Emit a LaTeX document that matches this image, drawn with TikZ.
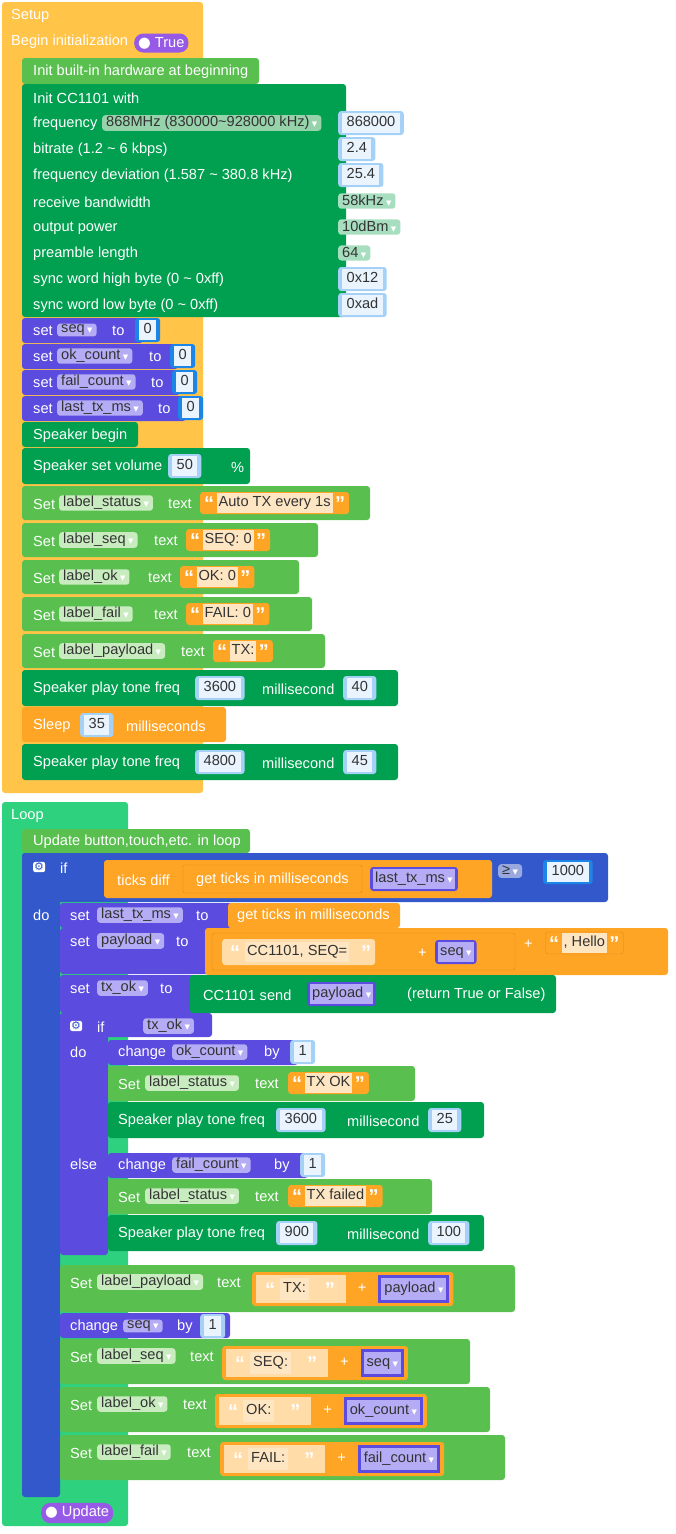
\documentclass[tikz,border=0pt]{standalone}
\usepackage{fontspec}
\setmainfont{Liberation Sans}
\newfontfamily\dv{DejaVu Sans}
\usetikzlibrary{positioning}
\definecolor{setupC}{HTML}{FFC448}
\definecolor{hwC}{HTML}{59C04F}
\definecolor{hwL}{HTML}{C8ECC0}
\definecolor{dgC}{HTML}{00A050}
\definecolor{ddG}{HTML}{96D2AA}
\definecolor{ddT}{HTML}{A8DEC0}
\definecolor{numC}{HTML}{A6D1F7}
\definecolor{numL}{HTML}{EAF4FE}
\definecolor{numD}{HTML}{1C86E8}
\definecolor{varC}{HTML}{5B4BDE}
\definecolor{varL}{HTML}{B4ACF5}
\definecolor{orC}{HTML}{FFA526}
\definecolor{orD}{HTML}{D98A1C}
\definecolor{strL}{HTML}{FFE6C2}
\definecolor{strBg}{HTML}{FFDCA8}
\definecolor{loopC}{HTML}{2ED27E}
\definecolor{ifC}{HTML}{3358CC}
\definecolor{ifL}{HTML}{9AA8E0}
\definecolor{togC}{HTML}{965AE6}
\definecolor{txtC}{HTML}{333333}
\setlength{\fboxsep}{2pt}
\newcommand{\dd}{\,{\dv\fontsize{7}{8}\selectfont\color{white}▼}}
\newcommand{\nf}[1]{\colorbox{numL}{\strut\,#1\,}}
\newcommand{\vr}[1]{\colorbox{varL}{\strut\color{txtC}#1\dd}}
\newcommand{\vrep}[1]{{\setlength{\fboxsep}{3pt}\colorbox{varC}{\vr{#1}}}}
\newcommand{\qm}[1]{{\fontsize{20}{20}\selectfont\bfseries\color{white}\raisebox{-4pt}{#1}}}
\newcommand{\sq}[1]{\qm{“}\,\colorbox{strL}{\strut\color{txtC}#1}\,\qm{”}}
\newcommand{\jsq}[1]{{\setlength{\fboxsep}{3pt}\colorbox{strBg}{\hspace{6pt}\qm{“}\hspace{5pt}\colorbox{strL}{\strut\color{txtC}#1}\hspace{16pt}\qm{”}\hspace{8pt}}}}
\newcommand{\jplus}{\hspace{12pt}{\color{white}+}\hspace{12pt}}
\newcommand{\gear}{{\dv\color{ifC}⚙}}
\begin{document}
\begin{tikzpicture}[x=1pt,y=-1pt,font=\fontsize{14.6}{16}\selectfont,
    blk/.style={fill=#1,rounded corners=3pt},
    lbl/.style={anchor=west,text=white,inner sep=0pt},
    rep/.style={anchor=west,fill=#1,rounded corners=3pt,inner xsep=4pt,inner ysep=2pt,text=txtC},
    pill/.style={anchor=west,fill=togC,rounded corners=9pt,text=white,minimum height=19pt,inner xsep=4pt},
    gearbox/.style={anchor=west,fill=white,rounded corners=2pt,inner sep=1pt,font=\fontsize{11}{12}\selectfont}]
\useasboundingbox (0,0) rectangle (675,1534);
% setup
\path[blk=setupC] (2,2) rectangle (203,793);
\node[lbl] (setup) at (11,16) {Setup};
\node[lbl] (begin) at (11,42) {Begin initialization};
\node[pill] (true) at (134,43) {{\dv●}\ True};
\path[blk=hwC] (22,58) rectangle (259,84);
\node[lbl] (hw) at (33,72) {Init built-in hardware at beginning};
\path[blk=dgC] (22,84) rectangle (346,317);
\foreach \t [count=\i] in {Init CC1101 with, frequency, {bitrate (1.2 \textasciitilde{} 6 kbps)},
    {frequency deviation (1.587 \textasciitilde{} 380.8 kHz)}, receive bandwidth, output power,
    preamble length, {sync word high byte (0 \textasciitilde{} 0xff)}, {sync word low byte (0 \textasciitilde{} 0xff)}}
  \node[lbl] (row\i) at (33,{98+26*(\i-1)}) {\t};
\node[rep=ddG,inner ysep=1pt] (band) at (102,123) {868MHz (830000\textasciitilde928000 kHz)\dd};
\node[rep=numC] (freq) at (338,123) {\nf{868000}};
\node[rep=numC] (rate) at (338,149) {\nf{2.4}};
\node[rep=numC] (dev) at (338,175) {\nf{25.4}};
\node[rep=ddT] (bw) at (338,201) {58kHz\dd};
\node[rep=ddT] (pwr) at (338,227) {10dBm\dd};
\node[rep=ddT] (pre) at (338,253) {64\dd};
\node[rep=numC] (synch) at (338,279) {\nf{0x12}};
\node[rep=numC] (syncl) at (338,305) {\nf{0xad}};
% set variables
\foreach \v/\y/\tox/\nx [count=\i] in {seq/330/112/135, ok\_count/356/149/170, fail\_count/382/151/172, last\_tx\_ms/408/158/178}{
  \path[blk=varC] (22,\y-12) rectangle (\nx+8,\y+13);
  \node[lbl] (set\i) at (33,\y+1) {set};
  \node[rep=varL,inner ysep=1pt] (var\i) at (57,\y) {\v\dd};
  \node[lbl] (to\i) at (\tox,\y+1) {to};
  \node[rep=numD] (num\i) at (\nx,\y) {\nf{0}};
}
\path[blk=dgC] (22,422) rectangle (138,447);
\node[lbl] (spkbegin) at (33,436) {Speaker begin};
\path[blk=dgC] (22,448) rectangle (250,484);
\node[lbl] (vol) at (33,467) {Speaker set volume};
\node[rep=numC] (volnum) at (168,466) {\nf{50}};
\node[lbl] (pct) at (231,467) {\%};
\foreach \lb/\y/\sx/\st/\rx [count=\i] in {label\_status/503/200/Auto TX every 1s/370, label\_seq/540/186/SEQ: 0/318,
    label\_ok/577/180/OK: 0/299, label\_fail/614/186/FAIL: 0/312, label\_payload/651/213/TX:/325}{
  \path[blk=hwC] (22,\y-17) rectangle (\rx,\y+17);
  \node[lbl] (lset\i) at (33,\y+1) {Set};
  \node[rep=hwL,inner ysep=1pt] (lvar\i) at (59,\y) {\lb\dd};
  \node[lbl] (ltext\i) at (\sx-32,\y+1) {text};
  \node[rep=orC,inner ysep=1pt] (lstr\i) at (\sx,\y) {\sq{\st}};
}
\foreach \y/\fa/\fb [count=\i] in {688/3600/40, 762/4800/45}{
  \path[blk=dgC] (22,\y-18) rectangle (398,\y+18);
  \node[lbl] (tone\i) at (33,\y+1) {Speaker play tone freq};
  \node[rep=numC] (freq\i) at (195,\y) {\nf{\fa}};
  \node[lbl] (ms\i) at (262,\y+1) {millisecond};
  \node[rep=numC] (dur\i) at (343,\y) {\nf{\fb}};
}
\path[blk=orC] (22,707) rectangle (226,742);
\node[lbl] (sleep) at (33,726) {Sleep};
\node[rep=numC] (sleepnum) at (80,725) {\nf{35}};
\node[lbl] (sleepms) at (126,726) {milliseconds};
% loop
\path[blk=loopC] (2,802) rectangle (128,1526);
\node[lbl] (loop) at (11,816) {Loop};
\node[pill] (update) at (41,1513) {{\dv●}\ Update};
\path[blk=hwC] (22,829) rectangle (250,853);
\node[lbl] (upd) at (33,842) {Update button,touch,etc. in loop};
\path[blk=ifC] (22,853) rectangle (608,902);
\path[blk=ifC] (22,853) rectangle (60,1497);
\node[gearbox] (gear1) at (33,867) {\gear};
\node[lbl] (if1) at (60,868) {if};
\node[lbl] (do1) at (33,915) {do};
\path[blk=orC] (104,860) rectangle (492,898);
\node[lbl] (diff) at (117,880) {ticks diff};
\draw[orD,rounded corners=2pt] (183,865) rectangle (362,893);
\node[lbl] (ticks1) at (196,880) {get ticks in milliseconds};
\node[rep=varC,inner xsep=3pt] (lasttx) at (370,879) {\vr{last\_tx\_ms}};
\node[rep=ifL] (ge) at (498,871) {≥\dd};
\node[rep=numD] (thr) at (543,872) {\nf{1000}};
% do branch
\path[blk=varC] (60,903) rectangle (232,928);
\node[lbl] (set5) at (70,916) {set};
\node[rep=varL,inner ysep=1pt] (var5) at (97,915) {last\_tx\_ms\dd};
\node[lbl] (to5) at (196,916) {to};
\path[blk=orC] (228,903) rectangle (400,928);
\node[lbl] (ticks2) at (237,916) {get ticks in milliseconds};
\path[blk=varC] (60,928) rectangle (210,974);
\node[lbl] (set6) at (70,942) {set};
\node[rep=varL,inner ysep=1pt] (var6) at (97,941) {payload\dd};
\node[lbl] (to6) at (176,942) {to};
\path[blk=orC] (205,928) rectangle (668,975);
\draw[orD,rounded corners=2pt] (212,933) rectangle (515,970);
\node[rep=strBg,inner ysep=3pt] (sseq) at (222,952) {\hspace{4pt}\qm{“}\hspace{5pt}\colorbox{strL}{\strut CC1101, SEQ=}\hspace{12pt}\qm{”}\hspace{6pt}};
\node[lbl] (plus1) at (418,953) {+};
\node[rep=varC,inner xsep=3pt] (seqv) at (435,952) {\vr{seq}};
\node[lbl] (plus2) at (524,944) {+};
\node[rep=orC,draw=orD,inner ysep=1pt] (shello) at (545,943) {\sq{, Hello}};
\path[blk=varC] (60,975) rectangle (195,1013);
\node[lbl] (set7) at (70,989) {set};
\node[rep=varL,inner ysep=1pt] (var7) at (97,988) {tx\_ok\dd};
\node[lbl] (to7) at (160,989) {to};
\path[blk=dgC] (190,975) rectangle (556,1013);
\node[lbl] (send) at (203,995) {CC1101 send};
\node[rep=varC,inner xsep=3pt] (sendv) at (307,994) {\vr{payload}};
\node[lbl] (ret) at (407,995) {(return True or False)};
% inner if
\path[blk=varC] (60,1013) rectangle (212,1037);
\path[blk=varC] (60,1013) rectangle (108,1255);
\node[gearbox] (gear2) at (70,1026) {\gear};
\node[lbl] (if2) at (97,1027) {if};
\node[rep=varL,inner ysep=1pt] (txok) at (143,1026) {tx\_ok\dd};
\node[lbl] (do2) at (70,1052) {do};
\node[lbl] (else) at (70,1164) {else};
\foreach \y/\v/\st/\rx/\nb/\fa/\fb [count=\i] in {1052/ok\_count/TX OK/415/290/3600/25, 1165/fail\_count/TX failed/432/300/900/100}{
  \path[blk=varC] (108,\y-12) rectangle (\nb+8,\y+13);
  \node[lbl] (chg\i) at (118,\y+1) {change};
  \node[rep=varL,inner ysep=1pt] (cvar\i) at (172,\y) {\v\dd};
  \node[lbl] (by\i) at (\nb-26,\y+1) {by};
  \node[rep=numC] (cnum\i) at (\nb,\y) {\nf{1}};
  \path[blk=hwC] (108,\y+14) rectangle (\rx,\y+49);
  \node[lbl] (sset\i) at (118,\y+32) {Set};
  \node[rep=hwL,inner ysep=1pt] (svar\i) at (145,\y+31) {label\_status\dd};
  \node[lbl] (stext\i) at (255,\y+32) {text};
  \node[rep=orC,inner ysep=1pt] (sstr\i) at (288,\y+31) {\sq{\st}};
  \path[blk=dgC] (108,\y+50) rectangle (484,\y+86);
  \node[lbl] (stone\i) at (118,\y+69) {Speaker play tone freq};
  \node[rep=numC] (sfreq\i) at (276,\y+68) {\nf{\fa}};
  \node[lbl] (sms\i) at (347,\y+69) {millisecond};
  \node[rep=numC] (sdur\i) at (428,\y+68) {\nf{\fb}};
}
% after inner if
\path[blk=hwC] (60,1265) rectangle (515,1312);
\node[lbl] (pset) at (70,1283) {Set};
\node[rep=hwL,inner ysep=1pt] (pvar) at (97,1282) {label\_payload\dd};
\node[lbl] (ptext) at (217,1283) {text};
\node[rep=orC,inner ysep=3pt] (pjoin) at (252,1289) {\jsq{TX:}\jplus\vrep{payload}};
\path[blk=varC] (60,1313) rectangle (230,1338);
\node[lbl] (chg3) at (70,1327) {change};
\node[rep=varL,inner ysep=1pt] (cvar3) at (123,1326) {seq\dd};
\node[lbl] (by3) at (177,1327) {by};
\node[rep=numC] (cnum3) at (200,1326) {\nf{1}};
\foreach \y/\lb/\tx/\jx/\st/\v/\rx [count=\i] in {1356/label\_seq/190/222/SEQ:/seq/470, 1404/label\_ok/183/215/OK:/ok\_count/490, 1452/label\_fail/187/220/FAIL:/fail\_count/505}{
  \path[blk=hwC] (60,\y-17) rectangle (\rx,\y+28);
  \node[lbl] (jset\i) at (70,\y+1) {Set};
  \node[rep=hwL,inner ysep=1pt] (jvar\i) at (97,\y) {\lb\dd};
  \node[lbl] (jtext\i) at (\tx,\y+1) {text};
  \node[rep=orC,inner ysep=3pt] (jjoin\i) at (\jx,\y+7) {\jsq{\st}\jplus\vrep{\v}};
}
\end{tikzpicture}
\end{document}
